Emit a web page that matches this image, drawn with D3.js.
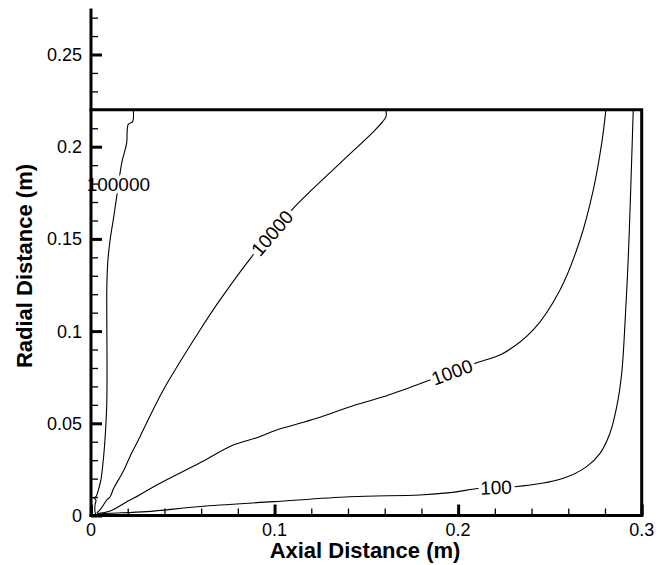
<!DOCTYPE html>
<html>
<head>
<meta charset="utf-8">
<script src="https://cdn.jsdelivr.net/npm/d3@7"></script>
<style>
  html, body { margin: 0; padding: 0; background: #fff; }
  svg { display: block; }
</style>
</head>
<body>
<svg id="chart" width="669" height="565"></svg>
<script>
// ---- data ----
const xTickValues = [0, 0.1, 0.2, 0.3];
const xTickLabels = ["0", "0.1", "0.2", "0.3"];
const yTickValues = [0, 0.05, 0.1, 0.15, 0.2, 0.25];
const yTickLabels = ["0", "0.05", "0.1", "0.15", "0.2", "0.25"];
const xMinorStep = 0.02;
const yMinorStep = 0.01;
const xDomain = [0, 0.3];
const yDomain = [0, 0.275];

// domain boundary (wall at r = 0.22, outlet at x = 0.3)
const wallX = [0, 0.3, 0.3];
const wallY = [0.22, 0.22, 0];

const contourLevels = ["100000", "10000", "1000", "100"];

const line100000 = [
  [0.0027,0.0005],[0.0022,0.0019],[0.0022,0.0057],[0.0027,0.0084],[0.0016,0.0095],
  [0.0027,0.0102],[0.0040,0.0138],[0.0054,0.0193],[0.0067,0.0301],[0.0076,0.0409],
  [0.0086,0.0610],[0.0086,0.1114],[0.0086,0.1223],[0.0091,0.1368],[0.0104,0.1494],
  [0.0121,0.1602],[0.0140,0.1729],[0.0149,0.1795],[0.0158,0.1856],[0.0171,0.1928],
  [0.0194,0.2018],[0.0203,0.2121],[0.0227,0.2136],[0.0230,0.2200]
];
const line10000 = [
  [0.0031,0.0014],[0.0049,0.0030],[0.0086,0.0084],[0.0104,0.0102],[0.0125,0.0150],
  [0.0176,0.0240],[0.0212,0.0319],[0.0258,0.0409],[0.0303,0.0502],[0.0394,0.0681],
  [0.0594,0.1006],[0.0700,0.1165],[0.0875,0.1403],[0.0986,0.1532],[0.1102,0.1666],
  [0.1356,0.1910],[0.1538,0.2081],[0.1589,0.2136],[0.1607,0.2163],[0.1607,0.2200]
];
const line1000 = [
  [0.0033,0.0011],[0.0104,0.0024],[0.0212,0.0084],[0.0230,0.0093],[0.0376,0.0175],
  [0.0594,0.0286],[0.0775,0.0382],[0.0903,0.0422],[0.1012,0.0464],[0.1230,0.0527],
  [0.1411,0.0590],[0.1592,0.0644],[0.1847,0.0735],[0.1966,0.0778],[0.2092,0.0825],
  [0.2246,0.0880],[0.2409,0.1006],[0.2555,0.1223],[0.2664,0.1494],[0.2736,0.1765],
  [0.2782,0.2018],[0.2805,0.2200]
];
const line100 = [
  [0.0038,0.0008],[0.0104,0.0012],[0.0303,0.0021],[0.0594,0.0049],[0.0993,0.0075],
  [0.1411,0.0102],[0.1792,0.0111],[0.1956,0.0124],[0.2119,0.0148],[0.2206,0.0153],
  [0.2310,0.0156],[0.2573,0.0202],[0.2700,0.0265],[0.2773,0.0337],[0.2827,0.0446],
  [0.2864,0.0590],[0.2891,0.0771],[0.2909,0.1042],[0.2927,0.1403],[0.2940,0.1765],
  [0.2954,0.2200]
];
const contourLines = [line100000, line10000, line1000, line100];
const labelPointIndex = [17, 13, 13, 9];

const xTitle = "Axial Distance (m)";
const yTitle = "Radial Distance (m)";

// ---- drawing ----
const svg = d3.select("#chart");
const x = d3.scaleLinear().domain(xDomain).range([91, 641.7]);
const y = d3.scaleLinear().domain(yDomain).range([515.5, 8.4]);

const lineGen = d3.line().x(d => x(d[0])).y(d => y(d[1])).curve(d3.curveCatmullRom.alpha(0.5));

const gLines = svg.append("g");
contourLines.forEach(pts => {
  gLines.append("path")
    .attr("d", lineGen(pts))
    .attr("fill", "none")
    .attr("stroke", "#000")
    .attr("stroke-width", 1.1);
});

// contour labels
const gLab = svg.append("g");
contourLines.forEach((pts, i) => {
  const k = labelPointIndex[i];
  const p = pts[k], a = pts[k - 1], b = pts[k + 1];
  let ang = Math.atan2(y(b[1]) - y(a[1]), x(b[0]) - x(a[0])) * 180 / Math.PI;
  if (Math.abs(ang) > 60) ang = 0;
  gLab.append("text")
    .attr("transform", `translate(${x(p[0])},${y(p[1])}) rotate(${ang})`)
    .attr("text-anchor", "middle")
    .attr("dy", "0.36em")
    .attr("font-family", "Liberation Sans, Arial, Helvetica, sans-serif")
    .attr("font-size", 19)
    .attr("fill", "#000")
    .attr("stroke", "#fff")
    .attr("stroke-width", 7)
    .attr("paint-order", "stroke")
    .text(contourLevels[i]);
});

// wall boundary
const wallPts = wallX.map((v, i) => [v, wallY[i]]);
svg.append("path")
  .attr("d", d3.line().x(d => x(d[0])).y(d => y(d[1]))(wallPts))
  .attr("fill", "none").attr("stroke", "#000").attr("stroke-width", 3)
  .attr("stroke-linecap", "square");

// axes
const yMinor = d3.range(0, yDomain[1] + 1e-9, yMinorStep).filter(v => !yTickValues.some(t => Math.abs(t - v) < 1e-9));
const xMinor = d3.range(0, xDomain[1] + 1e-9, xMinorStep).filter(v => !xTickValues.some(t => Math.abs(t - v) < 1e-9));

const yAxisMinor = d3.axisRight(y).tickValues(yMinor).tickSize(7).tickFormat("");
const yAxisMajor = d3.axisRight(y).tickValues(yTickValues).tickSize(11).tickFormat("");
const xAxisMinor = d3.axisTop(x).tickValues(xMinor).tickSize(7).tickFormat("");
const xAxisMajor = d3.axisTop(x).tickValues(xTickValues).tickSize(11).tickFormat("");

function styleAxis(g, w) {
  g.select(".domain").remove();
  g.selectAll(".tick line").attr("stroke", "#000").attr("stroke-width", w);
}
svg.append("g").attr("transform", `translate(${x(0)},0)`).call(yAxisMinor).call(g => styleAxis(g, 1.3));
svg.append("g").attr("transform", `translate(${x(0)},0)`).call(yAxisMajor).call(g => styleAxis(g, 3));
svg.append("g").attr("transform", `translate(0,${y(0)})`).call(xAxisMinor).call(g => styleAxis(g, 1.3));
svg.append("g").attr("transform", `translate(0,${y(0)})`).call(xAxisMajor).call(g => styleAxis(g, 3));

// axis lines
svg.append("line").attr("x1", x(0)).attr("x2", x(0)).attr("y1", y(yDomain[1])).attr("y2", y(0) + 1.5)
  .attr("stroke", "#000").attr("stroke-width", 3);
svg.append("line").attr("x1", x(0) - 1.5).attr("x2", x(xDomain[1]) + 1.5).attr("y1", y(0)).attr("y2", y(0))
  .attr("stroke", "#000").attr("stroke-width", 3);

// tick labels
const font = "Liberation Sans, Arial, Helvetica, sans-serif";
svg.append("g").selectAll("text").data(yTickValues).join("text")
  .attr("x", 82).attr("y", d => y(d)).attr("dy", "0.36em")
  .attr("text-anchor", "end").attr("font-family", font).attr("font-size", 18)
  .text((d, i) => yTickLabels[i]);
svg.append("g").selectAll("text").data(xTickValues).join("text")
  .attr("x", d => x(d)).attr("y", 536)
  .attr("text-anchor", "middle").attr("font-family", font).attr("font-size", 18)
  .text((d, i) => xTickLabels[i]);

// axis titles
svg.append("text").attr("x", 365).attr("y", 558)
  .attr("text-anchor", "middle").attr("font-family", font).attr("font-weight", "bold").attr("font-size", 22)
  .text(xTitle);
svg.append("text").attr("transform", "translate(32,266) rotate(-90)")
  .attr("text-anchor", "middle").attr("font-family", font).attr("font-weight", "bold").attr("font-size", 22)
  .text(yTitle);
</script>
</body>
</html>
